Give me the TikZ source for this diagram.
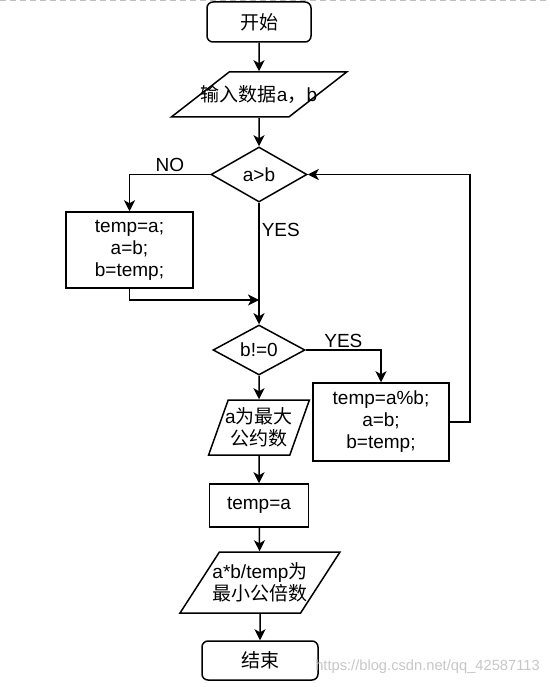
\documentclass[tikz,border=0pt]{standalone}
\usepackage{fontspec}
\setmainfont{Liberation Sans}
\newfontfamily\cjk{Noto Sans CJK SC}
\newcommand{\zh}[1]{{\cjk #1}}
\usetikzlibrary{shapes.geometric,arrows.meta}
\tikzset{>={Stealth[length=11pt,width=11pt,inset=3pt]}, every edge/.style={draw,
		->,line width=1.5pt}}
\tikzstyle{terminal}=[rectangle,rounded corners=6pt,draw=black,inner sep=0pt,minimum width=104pt,minimum height=40pt]
\tikzstyle{process}=[rectangle,draw=black,inner sep=0pt,align=center]
\tikzstyle{decision}=[diamond,aspect=1.8,draw=black,inner sep=0pt]
\tikzstyle{inout}=[trapezium,trapezium stretches=true,draw=black,inner sep=2pt,align=center]
\tikzstyle{branch}=[inner sep=2pt]

\begin{document}
\begin{tikzpicture}[x=1pt,y=-1pt,line width=1.5pt,font=\fontsize{19}{22}\selectfont]
	\useasboundingbox (0,0) rectangle (549,687);
	\draw [black!25,line width=1pt,dash pattern=on 6pt off 4pt] (0,1) -- (549,1);
	\node at (259,22) [terminal] (1) {\zh{开始}};
	\node at (259,94.5) [inout,trapezium left angle=47,trapezium right angle=133,minimum width=176pt,minimum height=45pt] (2) {\phantom{x}};
	\node at (259,174.5) [decision,minimum width=96pt,minimum height=55pt] (3) {a>b};
	\node at (129.5,250) [process,minimum width=127pt,minimum height=76pt] (4) {temp=a;\\a=b;\\b=temp;};
	\coordinate (5) at (259,300);
	\node at (259,350) [decision,minimum width=92pt,minimum height=50pt] (6) {b!=0};
	\node at (381,422) [process,minimum width=136pt,minimum height=78pt] (7) {temp=a\%b;\\a=b;\\b=temp;};
	\coordinate (8) at (470,422);
	\node at (259,427.5) [inout,trapezium left angle=73,trapezium right angle=107,minimum width=101pt,minimum height=55pt] (9) {\phantom{x}};
	\node at (259,505.5) [process,minimum width=99pt,minimum height=43pt] (10) {temp=a};
	\node at (260,582.5) [inout,trapezium left angle=65,trapezium right angle=115,minimum width=160pt,minimum height=61pt] (11) {\phantom{x}};
	\node at (260,660.5) [terminal,minimum width=116pt,minimum height=39pt] (12) {\zh{结束}};
	\node at (2.center) [align=center] (14) {\zh{输入数据}a\zh{，}b};
	\node at (9.center) [align=center] (15) {a\zh{为最大}\\\zh{公约数}};
	\node at (11.center) [align=center] (16) {a*b/temp\zh{为}\\\zh{最小公倍数}};
	\node at (427.5,667) [text=black!22,font=\fontsize{14.7}{17}\selectfont] (13) {https://blog.csdn.net/qq\_42587113};
	
	\draw (1) edge (2);
	\draw (2) edge (3);
	\draw [->] (3.west) -| node[branch,pos=0.25,above] {NO} (4.north);
	\draw (3) edge node[branch,pos=0.22,right] {YES} (6);
	\draw [->] (4.south) |- (5);
	\draw [->] (6.east) -| node[branch,pos=0.25,above] {YES} (7.north);
	\draw [->] (7.east) -- (8) |- (3.east);
	\draw (6) edge (9);
	\draw (9) edge (10);
	\draw (10) edge (11);
	\draw (11) edge (12);
\end{tikzpicture}
\end{document}
